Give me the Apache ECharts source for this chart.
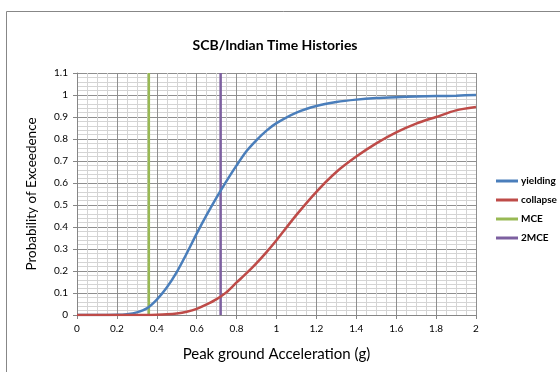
<!DOCTYPE html>
<html>
<head>
<meta charset="utf-8">
<script src="https://cdn.jsdelivr.net/npm/echarts@6/dist/echarts.min.js"></script>
<style>
  html, body { margin: 0; padding: 0; background: #fff; }
  #chart { width: 560px; height: 372px; }
</style>
</head>
<body>
<div id="chart"></div>
<script>
// peak ground acceleration (g)
const pga = [0, 0.1, 0.2, 0.25, 0.3, 0.35, 0.4, 0.45, 0.5, 0.55, 0.6, 0.65, 0.7, 0.75, 0.8, 0.85, 0.9, 0.95, 1.0,
  1.1, 1.2, 1.3, 1.4, 1.5, 1.6, 1.7, 1.8, 1.9, 2.0];
const yielding = [0, 0, 0.001, 0.004, 0.012, 0.03, 0.07, 0.125, 0.195, 0.28, 0.37, 0.455, 0.535, 0.61, 0.68, 0.745, 0.795, 0.838, 0.872,
  0.92, 0.95, 0.968, 0.979, 0.986, 0.99, 0.993, 0.995, 0.997, 1.0];
const collapse = [0, 0, 0, 0, 0, 0, 0.001, 0.003, 0.007, 0.015, 0.028, 0.048, 0.072, 0.104, 0.148, 0.19, 0.236, 0.286, 0.34,
  0.455, 0.56, 0.65, 0.72, 0.78, 0.83, 0.87, 0.9, 0.93, 0.945];
// vertical reference lines
const mceX = [0.36, 0.36];
const mceY = [0, 1.1];
const mce2X = [0.72, 0.72];
const mce2Y = [0, 1.1];

const pairs = (xs, ys) => xs.map((x, i) => [x, ys[i]]);

const font = 'Lato, "Open Sans", sans-serif';
const chart = echarts.init(document.getElementById('chart'));

chart.setOption({
  animation: false,
  textStyle: { fontFamily: font },
  graphic: [{
    type: 'rect',
    shape: { x: 6.5, y: 11.5, width: 600, height: 400 },
    style: { fill: 'none', stroke: '#878787', lineWidth: 1 },
    silent: true
  }],
  title: {
    text: 'SCB/Indian Time Histories',
    left: 270,
    top: 33,
    textAlign: 'center',
    textStyle: { fontFamily: font, fontSize: 14, fontWeight: 'bold', color: '#000' }
  },
  legend: {
    orient: 'vertical',
    left: 491,
    top: 171,
    itemWidth: 22,
    itemHeight: 3,
    itemGap: 9,
    icon: 'rect',
    data: ['yielding', 'collapse', 'MCE', '2MCE'],
    textStyle: { fontFamily: font, fontSize: 10, fontWeight: 'bold', color: '#000', padding: [0, 0, 0, -2] }
  },
  grid: { left: 77, right: 84, top: 73, bottom: 57 },
  xAxis: {
    type: 'value',
    min: 0,
    max: 2,
    interval: 0.2,
    name: 'Peak ground Acceleration (g)',
    nameLocation: 'middle',
    nameGap: 32,
    nameTextStyle: { fontFamily: font, fontSize: 15, color: '#000' },
    axisLine: { show: true, lineStyle: { color: '#868686' } },
    axisTick: { show: true, length: 4, lineStyle: { color: '#868686' } },
    axisLabel: { fontSize: 10, color: '#000', margin: 9 },
    splitLine: { show: true, lineStyle: { color: '#8f8f8f', width: 1 } },
    minorTick: { show: false, splitNumber: 4 },
    minorSplitLine: { show: true, lineStyle: { color: '#d4d4d4', width: 1 } }
  },
  yAxis: {
    type: 'value',
    min: 0,
    max: 1.1,
    interval: 0.1,
    name: 'Probability of Exceedence',
    nameLocation: 'middle',
    nameGap: 38,
    nameTextStyle: { fontFamily: font, fontSize: 13.5, color: '#000' },
    axisLine: { show: true, lineStyle: { color: '#868686' } },
    axisTick: { show: true, length: 4, lineStyle: { color: '#868686' } },
    axisLabel: { fontSize: 10, color: '#000', margin: 9 },
    splitLine: { show: true, lineStyle: { color: '#8f8f8f', width: 1 } },
    minorTick: { show: false, splitNumber: 5 },
    minorSplitLine: { show: true, lineStyle: { color: '#d4d4d4', width: 1 } }
  },
  series: [
    {
      name: 'yielding',
      type: 'line',
      data: pairs(pga, yielding),
      smooth: 0.25,
      showSymbol: false,
      lineStyle: { color: '#4a7ebb', width: 2.5 },
      itemStyle: { color: '#4a7ebb' },
      z: 4
    },
    {
      name: 'collapse',
      type: 'line',
      data: pairs(pga, collapse),
      smooth: 0.25,
      showSymbol: false,
      lineStyle: { color: '#be4b48', width: 2.5 },
      itemStyle: { color: '#be4b48' },
      z: 4
    },
    {
      name: 'MCE',
      type: 'line',
      data: pairs(mceX, mceY),
      showSymbol: false,
      lineStyle: { color: '#98b954', width: 2.5 },
      itemStyle: { color: '#98b954' },
      z: 3
    },
    {
      name: '2MCE',
      type: 'line',
      data: pairs(mce2X, mce2Y),
      showSymbol: false,
      lineStyle: { color: '#7d60a0', width: 2.5 },
      itemStyle: { color: '#7d60a0' },
      z: 3
    }
  ]
});
</script>
</body>
</html>
